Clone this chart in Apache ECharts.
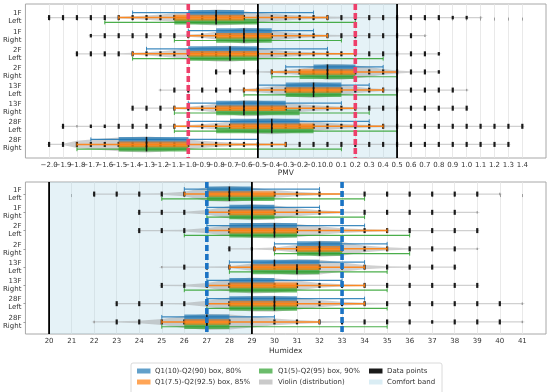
<!DOCTYPE html>
<html><head><meta charset="utf-8">
<script src="https://cdn.jsdelivr.net/npm/echarts@6/dist/echarts.min.js"></script>
<style>html,body{margin:0;padding:0;background:#fff}#c{width:550px;height:392px}</style>
</head><body><div id="c"></div>
<script>
// ---------- data ----------
const rowLabels = ['1F\nLeft','1F\nRight','2F\nLeft','2F\nRight','13F\nLeft','13F\nRight','28F\nLeft','28F\nRight'];
const rowIdx = [0,1,2,3,4,5,6,7];

const pmvValues = [-2.0,-1.9,-1.8,-1.7,-1.6,-1.5,-1.4,-1.3,-1.2,-1.1,-1.0,-0.9,-0.8,-0.7,-0.6,-0.5,-0.4,-0.3,-0.2,-0.1,0.0,0.1,0.2,0.3,0.4,0.5,0.6,0.7,0.8,0.9,1.0,1.1,1.2,1.3,1.4];
const humValues = [20,21,22,23,24,25,26,27,28,29,30,31,32,33,34,35,36,37,38,39,40,41];

// [low, median, high]
const pmvBox80 = [[-1.0,-0.8,-0.6],[-0.8,-0.6,-0.4],[-1.0,-0.7,-0.5],[-0.1,0.0,0.2],[-0.3,-0.1,0.1],[-0.8,-0.6,-0.3],[-0.7,-0.4,-0.2],[-1.5,-1.3,-1.0]];
const pmvWhisk80 = [[-1.4,-0.1],[-1.0,-0.1],[-1.3,0.0],[-0.3,0.4],[-0.5,0.3],[-1.0,0.1],[-1.0,0.3],[-1.7,-0.5]];
const pmvBox85 = [[-1.1,-0.8,-0.6],[-0.8,-0.6,-0.4],[-1.0,-0.7,-0.5],[-0.2,0.0,0.2],[-0.3,-0.1,0.1],[-0.8,-0.6,-0.3],[-0.7,-0.4,-0.1],[-1.5,-1.3,-1.0]];
const pmvWhisk85 = [[-1.5,0.0],[-1.0,0.0],[-1.4,0.2],[-0.4,0.5],[-0.6,0.4],[-1.1,0.2],[-1.1,0.4],[-1.8,-0.3]];
const pmvBox90 = [[-1.1,-0.8,-0.5],[-0.8,-0.6,-0.4],[-1.0,-0.7,-0.5],[-0.2,0.0,0.2],[-0.3,-0.1,0.1],[-0.8,-0.6,-0.2],[-0.8,-0.4,-0.1],[-1.5,-1.3,-1.0]];
const pmvWhisk90 = [[-1.6,0.2],[-1.1,0.1],[-1.4,0.4],[-0.4,0.5],[-0.6,0.5],[-1.1,0.3],[-1.1,0.5],[-1.8,0.1]];
const pmvCounts = [
 [3,3,3,3,4,8,12,18,26,36,48,60,68,64,54,42,32,24,17,12,9,7,5,4,4,3,3,3,3,2,2,1,0,0,0],
 [0,0,0,2,3,3,3,3,4,6,10,18,34,52,70,62,44,30,20,13,9,6,4,3,3,3,3,1,0,0,0,0,0,0,0],
 [0,0,3,3,3,4,8,14,22,32,44,56,64,66,58,46,34,24,17,12,9,7,5,4,3,3,3,3,2,0,0,0,0,0,0],
 [0,0,0,0,0,0,0,0,0,0,0,0,3,3,3,5,8,14,26,44,66,64,54,40,24,12,6,3,2,0,0,0,0,0,0],
 [0,0,0,0,0,0,0,0,1,3,3,3,4,6,10,18,30,46,62,68,60,44,28,16,9,5,4,3,3,3,1,0,0,0,0],
 [0,0,0,0,0,0,3,3,4,7,12,22,36,52,66,64,54,42,32,24,17,12,8,6,4,3,3,3,3,3,3,0,0,0,0],
 [0,3,1,2,2,3,3,3,4,6,10,16,26,38,50,60,64,58,48,38,28,20,14,10,8,6,5,4,4,3,3,3,3,3,3],
 [3,3,30,40,48,56,62,66,60,50,40,30,22,16,12,9,7,6,5,4,4,3,3,3,3,3,3,3,3,3,3,3,3,3,0]
];
const pmvComfort = [-0.5, 0.5];
const pmvRefLines = [-1.0, 0.2];

const humBox80 = [[27,28,29],[28,29,30],[28,30,31],[31,32,33],[29,30,32],[28,29,30],[28,30,31],[26,27,28]];
const humWhisk80 = [[26,32],[27,32],[27,34],[30,35],[28,34],[27,33],[27,34],[25,30]];
const humBox85 = [[27,28,30],[28,29,30],[28,30,31],[31,32,33],[29,31,32],[28,29,31],[28,30,31],[26,27,28]];
const humWhisk85 = [[26,33],[27,33],[27,35],[30,35],[28,34],[27,34],[27,34],[25,32]];
const humBox90 = [[27,28,30],[28,29,30],[28,30,31],[31,32,33],[29,31,32],[28,29,31],[28,30,31],[26,27,28]];
const humWhisk90 = [[25,34],[27,34],[26,36],[30,36],[28,35],[26,35],[27,35],[25,35]];
const humCounts = [
 [0,0,3,3,3,6,20,60,70,55,35,20,10,6,4,3,3,3,3,3,1,0],
 [0,0,0,0,3,3,3,20,55,70,60,35,18,8,4,3,3,3,3,1,0,0],
 [0,0,0,0,3,3,8,22,45,60,66,55,35,20,12,6,4,3,3,3,0,0],
 [0,0,0,0,0,0,0,0,3,2,12,35,70,60,30,14,6,3,3,1,0,0],
 [0,0,0,0,0,1,3,3,8,30,55,68,62,40,18,8,4,3,3,0,0,0],
 [0,0,0,0,0,3,6,20,50,66,60,40,20,10,5,3,3,3,3,3,0,0],
 [0,0,0,3,3,3,6,25,50,64,66,50,30,15,8,4,3,3,3,3,3,1],
 [0,0,1,3,10,25,50,66,62,45,28,16,8,5,3,3,3,2,3,3,3,1]
];
const humComfort = [20, 29];
const humRefLines = [27, 33];

const legendRows = [
 ['Q1(10)-Q2(90) box, 80%', 'Q1(5)-Q2(95) box, 90%', 'Data points'],
 ['Q1(7.5)-Q2(92.5) box, 85%', 'Violin (distribution)', 'Comfort band']
];

// ---------- styling ----------
const FONT = 'DejaVu Sans';
const C_BLUE = 'rgba(31,119,180,0.7)', C_ORANGE = 'rgba(255,127,14,0.7)', C_GREEN = 'rgba(44,160,44,0.7)';
const C_VIOLIN = 'rgba(150,150,150,0.45)', C_BAND = 'rgba(173,216,230,0.32)';
const legendColors = [[C_BLUE, C_GREEN, '#1a1a1a'], [C_ORANGE, 'rgba(150,150,150,0.5)', 'rgba(173,216,230,0.45)']];

function fmtMinus(v){ return (Math.round(v*10)/10).toFixed(1).replace('-', '\u2212'); }

function boxRender(b80, w80, b85, w85, b90, w90){
  return function(params, api){
    const r = api.value(1);
    const y0 = api.coord([0, r])[1];
    const X = v => api.coord([v, r])[0];
    const ch = [];
    const whisk = (w, dy, color, lw) => {
      const x1 = X(w[0]), x2 = X(w[1]), y = y0 + dy;
      ch.push({type:'line', shape:{x1:x1, y1:y, x2:x2, y2:y}, style:{stroke:color, lineWidth:lw}});
      ch.push({type:'line', shape:{x1:x1, y1:y-2, x2:x1, y2:y+2}, style:{stroke:color, lineWidth:1}});
      ch.push({type:'line', shape:{x1:x2, y1:y-2, x2:x2, y2:y+2}, style:{stroke:color, lineWidth:1}});
    };
    const box = (b, t, bt, fill) => {
      const x1 = X(b[0]), x2 = X(b[2]);
      ch.push({type:'rect', shape:{x:x1, y:y0+t, width:x2-x1, height:bt-t}, style:{fill:fill}});
    };
    const med = (b, t, bt) => {
      const x = X(b[1]);
      ch.push({type:'line', shape:{x1:x, y1:y0+t, x2:x, y2:y0+bt}, style:{stroke:'#111', lineWidth:1.5}});
    };
    whisk(w80[r], -5, 'rgba(31,119,180,0.85)', 1.2);
    whisk(w90[r], 4.8, 'rgba(44,160,44,0.85)', 1.2);
    box(b80[r], -7.5, -1, C_BLUE);
    box(b90[r], 1.2, 7, C_GREEN);
    whisk(w85[r], 0, 'rgba(255,127,14,0.9)', 1.5);
    box(b85[r], -2.8, 2.8, C_ORANGE);
    med(b80[r], -7.5, -1);
    med(b90[r], 1.2, 7);
    med(b85[r], -2.8, 2.8);
    return {type:'group', children: ch};
  };
}

function violinRender(values, counts){
  return function(params, api){
    const r = api.value(1);
    const y0 = api.coord([0, r])[1];
    const cnt = counts[r];
    const mx = Math.max.apply(null, cnt);
    const top = [], bot = [];
    for (let i = 0; i < cnt.length; i++) {
      if (cnt[i] <= 0) continue;
      const x = api.coord([values[i], r])[0];
      const hw = Math.max(0.6, cnt[i] / mx * 8);
      top.push([x, y0 - hw]);
      bot.unshift([x, y0 + hw]);
    }
    const first = top[0][0], last = top[top.length-1][0];
    const pts = [[first - 3, y0]].concat(top, [[last + 3, y0]], bot);
    return {type:'polygon', shape:{points: pts}, style:{fill: C_VIOLIN}};
  };
}

function pointRender(params, api){
  const p = api.coord([api.value(0), api.value(1)]);
  const c = api.value(2);
  let w = 2.2, h = 5, fill = '#1a1a1a';
  if (c === 2) { h = 3.5; }
  if (c <= 1) { w = 1.4; h = 2.4; fill = '#9a9a9a'; }
  return {type:'rect', shape:{x:p[0]-w/2, y:p[1]-h/2, width:w, height:h}, style:{fill:fill}};
}

function bandRender(params, api){
  const cs = params.coordSys;
  const x1 = api.coord([api.value(0), 0])[0], x2 = api.coord([api.value(1), 0])[0];
  return {type:'rect', shape:{x:x1, y:cs.y, width:x2-x1, height:cs.height}, style:{fill:C_BAND}};
}

function vlineRender(color, lw, dash){
  return function(params, api){
    const cs = params.coordSys;
    const x = api.coord([api.value(0), 0])[0];
    return {type:'line', shape:{x1:x, y1:cs.y, x2:x, y2:cs.y+cs.height},
      style:{stroke:color, lineWidth:lw, lineDash: dash || null}};
  };
}

// tick labels drawn through the axis scale (avoids automatic overlap hiding)
function tickLabelRender(params, api){
  const cs = params.coordSys;
  const x = api.coord([api.value(0), 0])[0];
  return {type:'text', x:x, y:cs.y + cs.height + 3.5,
    style:{text: fmtMinus(api.value(0)), fill:'#333', fontSize:7, fontFamily:FONT, align:'center', verticalAlign:'top'}};
}

function pointData(values, counts){
  const out = [];
  counts.forEach((row, r) => row.forEach((c, i) => { if (c > 0) out.push([values[i], r, c]); }));
  return out;
}

function panelSeries(gi, values, counts, b80, w80, b85, w85, b90, w90, comfort, refs, refColor){
  return [
    {type:'custom', xAxisIndex:gi, yAxisIndex:gi, z:1, silent:true, encode:{x:[0,1]},
     data:[[comfort[0], comfort[1]]], renderItem: bandRender},
    {type:'custom', xAxisIndex:gi, yAxisIndex:gi, z:2, silent:true, encode:{x:0, y:1},
     data: rowIdx.map(r => [b85[r][1], r]), renderItem: violinRender(values, counts)},
    {type:'custom', xAxisIndex:gi, yAxisIndex:gi, z:3, silent:true, encode:{x:0, y:1},
     data: pointData(values, counts), renderItem: pointRender},
    {type:'custom', xAxisIndex:gi, yAxisIndex:gi, z:4, silent:true, encode:{x:0, y:1},
     data: rowIdx.map(r => [b80[r][1], r]), renderItem: boxRender(b80, w80, b85, w85, b90, w90)},
    {type:'custom', xAxisIndex:gi, yAxisIndex:gi, z:6, silent:true, encode:{x:0},
     data: comfort.map(v => [v]), renderItem: vlineRender('#000', 1.8)},
    {type:'custom', xAxisIndex:gi, yAxisIndex:gi, z:7, silent:true, encode:{x:0},
     data: refs.map(v => [v]), renderItem: vlineRender(refColor, 3.6, [6,3])}
  ];
}

function xAxisCfg(gi, min, max, ticks, fmt, name, nameGap, showLabels){
  return {type:'value', gridIndex:gi, min:min, max:max,
    axisLine:{show:false},
    axisTick:{show:true, customValues:ticks, length:3, lineStyle:{color:'#888', width:0.8}},
    axisLabel:{show:showLabels, customValues:ticks, formatter:fmt, fontSize:7, margin:4, color:'#333', fontFamily:FONT},
    splitLine:{show:true, lineStyle:{color:'#e3e3e3', width:0.8}},
    name:name, nameLocation:'middle', nameGap:nameGap,
    nameTextStyle:{fontSize:7.5, color:'#333', fontFamily:FONT}};
}
function yAxisCfg(gi, min, max){
  return {type:'value', gridIndex:gi, min:min, max:max, inverse:true,
    axisLine:{show:false},
    axisTick:{show:true, customValues:rowIdx, length:2, lineStyle:{color:'#888', width:0.8}},
    axisLabel:{customValues:rowIdx, formatter: v => rowLabels[Math.round(v)], fontSize:7, lineHeight:8,
      margin:4, color:'#333', fontFamily:FONT, align:'right', showMinLabel:true, showMaxLabel:true},
    splitLine:{show:false}};
}

// ---------- legend graphic ----------
const legendX = [[137, 155], [259, 278], [369, 387]];
const legendY = [371, 382];
const legendEls = [{type:'rect', shape:{x:131, y:363, width:311, height:34, r:2},
  style:{fill:'rgba(255,255,255,0.9)', stroke:'#d0d0d0', lineWidth:0.8}}];
legendRows.forEach((row, ri) => row.forEach((txt, ci) => {
  legendEls.push({type:'rect', shape:{x:legendX[ci][0], y:legendY[ri]-2.5, width:13.5, height:5},
    style:{fill: legendColors[ri][ci]}});
  legendEls.push({type:'text', x:legendX[ci][1], y:legendY[ri],
    style:{text:txt, fill:'#333', fontSize:7, fontFamily:FONT, verticalAlign:'middle', align:'left'}});
}));

const chart = echarts.init(document.getElementById('c'), null, {renderer:'canvas'});
chart.setOption({
  animation:false,
  backgroundColor:'#fff',
  grid:[
    {left:25, top:4, width:521, height:154, show:true, borderColor:'#a8a8a8', borderWidth:1, backgroundColor:'transparent'},
    {left:25, top:182, width:521, height:152, show:true, borderColor:'#a8a8a8', borderWidth:1, backgroundColor:'transparent'}
  ],
  xAxis:[
    xAxisCfg(0, -2.17, 1.57, pmvValues, fmtMinus, 'PMV', 11, false),
    xAxisCfg(1, 18.95, 42.05, humValues, v => String(v), 'Humidex', 13, true)
  ],
  yAxis:[ yAxisCfg(0, -0.75, 7.75), yAxisCfg(1, -0.66, 7.66) ],
  series: [].concat(
    panelSeries(0, pmvValues, pmvCounts, pmvBox80, pmvWhisk80, pmvBox85, pmvWhisk85, pmvBox90, pmvWhisk90, pmvComfort, pmvRefLines, '#ee3f6a'),
    panelSeries(1, humValues, humCounts, humBox80, humWhisk80, humBox85, humWhisk85, humBox90, humWhisk90, humComfort, humRefLines, '#1a73c4'),
    [{type:'custom', xAxisIndex:0, yAxisIndex:0, z:8, silent:true, clip:false, encode:{x:0},
      data: pmvValues.map(v => [v]), renderItem: tickLabelRender}]
  ),
  graphic: {elements: [{type:'group', children: legendEls}]}
});
</script></body></html>
